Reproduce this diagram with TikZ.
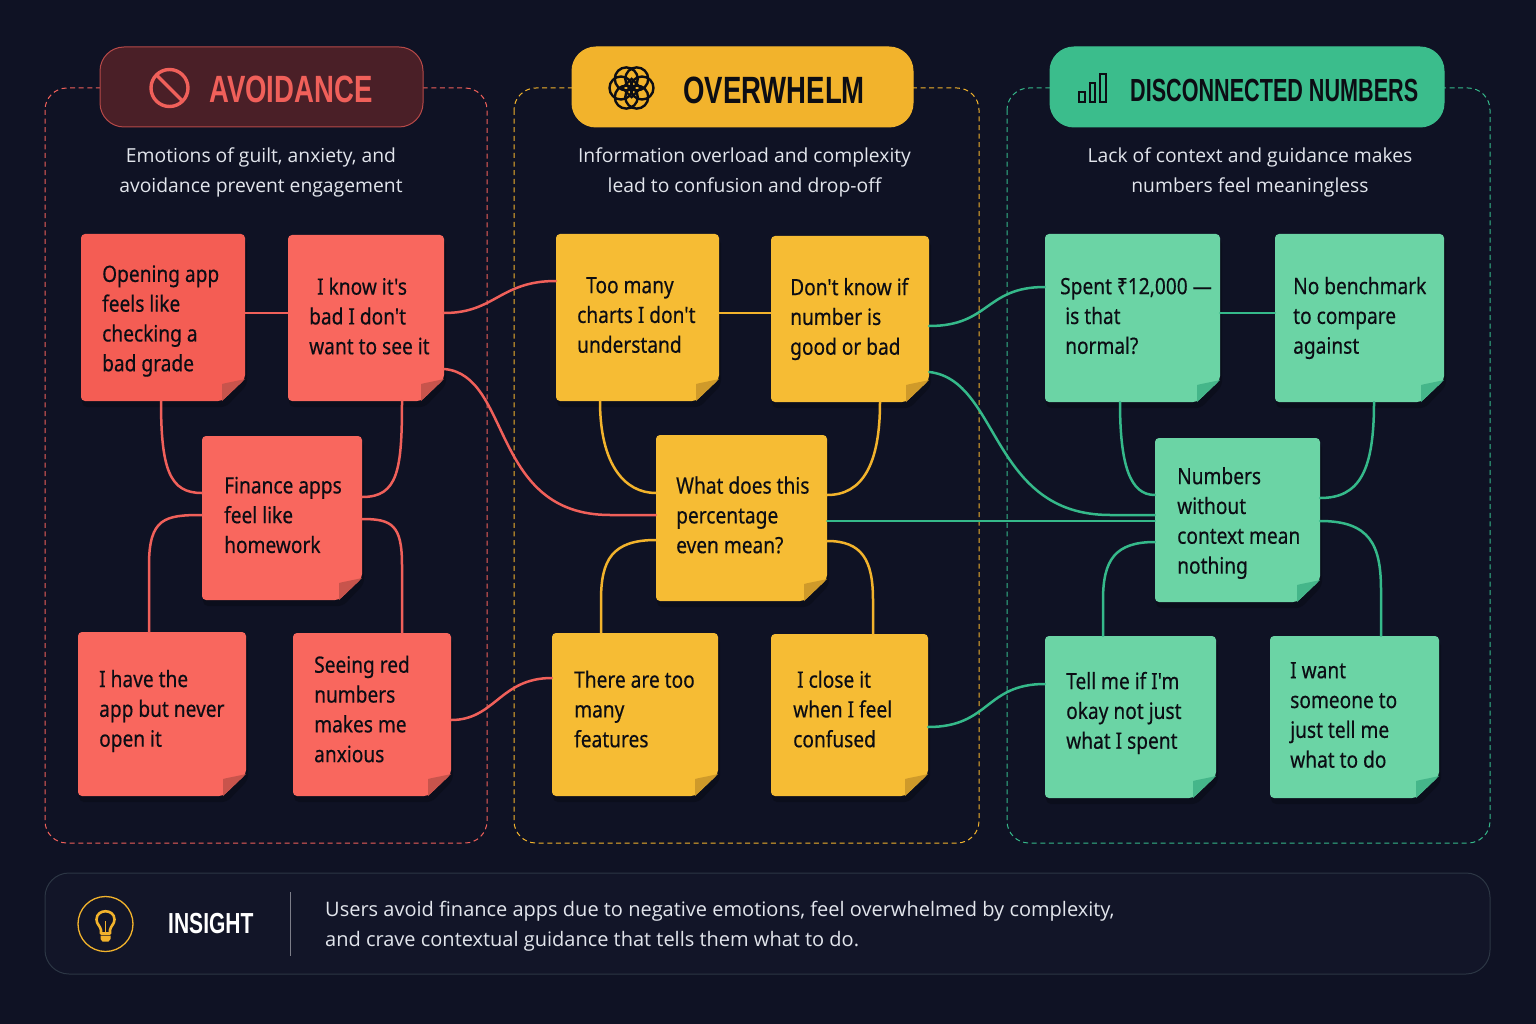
\documentclass[tikz,border=0pt]{standalone}
\usepackage{fontspec}
\usetikzlibrary{calc}
\setmainfont{Liberation Sans}
\newfontfamily\headfont[FakeStretch=0.725]{Liberation Sans}
\newfontfamily\headnarrow[FakeStretch=0.675]{Liberation Sans}
\newfontfamily\notefont[FakeStretch=0.85,FakeBold=0.35]{Noto Sans}
\newfontfamily\subfont{Open Sans}
\definecolor{bgc}{HTML}{0F1224}
\definecolor{redc}{HTML}{F9675E}
\definecolor{redd}{HTML}{F45D54}
\definecolor{redf}{HTML}{C8544C}
\definecolor{redh}{HTML}{4A1F27}
\definecolor{redl}{HTML}{F0605A}
\definecolor{yelc}{HTML}{F6BC34}
\definecolor{yelf}{HTML}{CF9A2A}
\definecolor{yelh}{HTML}{F2B32C}
\definecolor{grnc}{HTML}{6BD4A5}
\definecolor{grnf}{HTML}{45B68A}
\definecolor{grnh}{HTML}{3BBD8C}
\definecolor{grnl}{HTML}{35B98A}
\definecolor{panelc}{HTML}{121528}
\definecolor{panelb}{HTML}{2C3644}
\definecolor{ink}{HTML}{0C0D14}
\definecolor{subc}{HTML}{E2E5EC}
\tikzset{
 x=1pt,y=-1pt,
 panel/.style={draw=#1,line width=1pt,dash pattern=on 5pt off 3.6pt,rounded corners=22pt},
 header/.style={rounded corners=24pt,line width=1pt},
 subtitle/.style={font=\subfont\fontsize{19.3}{30}\selectfont,text=subc,align=center,inner sep=0pt},
 headtext/.style={font=\headfont\bfseries\fontsize{#1}{#1}\selectfont,inner sep=0pt,anchor=west},
 headtextn/.style={font=\headnarrow\bfseries\fontsize{#1}{#1}\selectfont,inner sep=0pt,anchor=west},
 notetext/.style={font=\notefont\fontsize{22.5}{29.8}\selectfont,text=ink,align=left,inner sep=0pt,anchor=west},
 link/.style={draw=#1,line width=2.5pt,line cap=round},
}
% \sticky{name}{x1}{y1}{x2}{y2}{fill}{fold}
\newcommand{\sticky}[7]{%
 \fill[black,opacity=.22,rounded corners=5pt] (#2+1,#3+5)--(#4+2,#3+5)--(#4+2,#5-16)--(#4-19,#5+6)--(#2+1,#5+6)--cycle;
 \fill[#6,rounded corners=4pt] (#2,#3)--(#4,#3)--(#4,#5-22)--(#4-23,#5)--(#2,#5)--cycle;
 \fill[#7] (#4-23,#5)--(#4-23,#5-17)..controls (#4-15,#5-19) and (#4-8,#5-20)..(#4,#5-22)--cycle;
 \node[inner sep=0pt,minimum width=#4-#2,minimum height=#5-#3] (#1) at ({(#2+#4)/2},{(#3+#5)/2}) {};
}
\begin{document}
\begin{tikzpicture}
\useasboundingbox (0,0) rectangle (1536,1024);
\fill[bgc] (0,0) rectangle (1536,1024);
% panels
\draw[panel=redl] (45,88) rectangle (487,843);
\draw[panel=yelh] (514,88) rectangle (979,843);
\draw[panel=grnl] (1007,88) rectangle (1490,843);
% headers
\filldraw[header,fill=redh,draw=redl!65!redh] (100,47) rectangle (423,127);
\filldraw[header,fill=yelh,draw=yelh] (572,47) rectangle (913,127);
\filldraw[header,fill=grnh,draw=grnh] (1050,47) rectangle (1444,127);
\node[headtext=38,text=redl] (h1) at (209,89.5) {AVOIDANCE};
\node[headtext=38,text=ink] (h2) at (683,90.5) {OVERWHELM};
\node[headtextn=32,text=ink] (h3) at (1130,90.5) {DISCONNECTED NUMBERS};
% icon: prohibition
\draw[redl,line width=3.4pt] (169.5,88) circle (18.5);
\draw[redl,line width=3.4pt] (156.5,75) -- (182.5,101);
% icon: tangle
\begin{scope}[shift={(631.5,88)}]
 \foreach \a in {0,60,120,180,240,300}{\draw[ink,line width=2.4pt] (\a:10.5) circle (11.5);}
 \draw[ink,line width=2.2pt,rotate=45] (-6.5,-6.5) rectangle (6.5,6.5);
\end{scope}
% icon: bars
\draw[ink,line width=2pt] (1079,92) rectangle (1084.5,102);
\draw[ink,line width=2pt] (1089.5,83) rectangle (1095,102);
\draw[ink,line width=2pt] (1100,74) rectangle (1105.5,102);
% subtitles
\node[subtitle] (s1) at (261,172) {Emotions of guilt, anxiety, and\\avoidance prevent engagement};
\node[subtitle] (s2) at (744.5,172) {Information overload and complexity\\lead to confusion and drop-off};
\node[subtitle] (s3) at (1250,172) {Lack of context and guidance makes\\numbers feel meaningless};
% stickies
\sticky{ra}{81}{234}{245}{401}{redd}{redf}
\sticky{rb}{288}{235}{444}{401}{redc}{redf}
\sticky{rc}{202}{436}{362}{600}{redc}{redf}
\sticky{rd}{78}{632}{246}{796}{redc}{redf}
\sticky{re}{293}{633}{451}{796}{redc}{redf}
\sticky{ya}{556}{234}{719}{401}{yelc}{yelf}
\sticky{yb}{771}{236}{929}{402}{yelc}{yelf}
\sticky{yc}{656}{435}{827}{601}{yelc}{yelf}
\sticky{yd}{552}{633}{718}{796}{yelc}{yelf}
\sticky{ye}{771}{634}{928}{796}{yelc}{yelf}
\sticky{ga}{1045}{234}{1220}{402}{grnc}{grnf}
\sticky{gb}{1275}{234}{1444}{402}{grnc}{grnf}
\sticky{gc}{1155}{438}{1320}{602}{grnc}{grnf}
\sticky{gd}{1045}{636}{1216}{798}{grnc}{grnf}
\sticky{ge}{1270}{636}{1439}{798}{grnc}{grnf}
% connectors
\begin{scope}[every path/.append style={link=redl}]
\draw (ra.east |- 0,313) -- (rb.west |- 0,313);
\draw (rb.east |- 0,313) .. controls (495,313) and (500,281) .. (ya.west |- 0,281);
\draw (rb.east |- 0,369) .. controls (512,375) and (490,515) .. (610,515) -- (yc.west |- 0,515);
\draw (ra.south -| 161,0) .. controls (161,470) and (170,493) .. (rc.west |- 0,493);
\draw (rb.south -| 402,0) .. controls (402,470) and (398,497) .. (rc.east |- 0,497);
\draw (rc.west |- 0,515) .. controls (165,515) and (149,518) .. (149,565) -- (rd.north -| 149,0);
\draw (rc.east |- 0,519) .. controls (392,519) and (402,525) .. (402,565) -- (re.north -| 402,0);
\draw (re.east |- 0,720) .. controls (495,720) and (500,678) .. (yd.west |- 0,678);
\end{scope}
\begin{scope}[every path/.append style={link=yelh}]
\draw (ya.east |- 0,313) -- (yb.west |- 0,313);
\draw (ya.south -| 600,0) .. controls (600,465) and (625,493) .. (yc.west |- 0,493);
\draw (yb.south -| 880,0) .. controls (880,465) and (862,495) .. (yc.east |- 0,495);
\draw (yc.west |- 0,540) .. controls (612,540) and (601,560) .. (601,600) -- (yd.north -| 601,0);
\draw (yc.east |- 0,541) .. controls (862,541) and (873,560) .. (873,600) -- (ye.north -| 873,0);
\end{scope}
\begin{scope}[every path/.append style={link=grnl}]
\draw (yb.east |- 0,326) .. controls (990,326) and (985,287) .. (ga.west |- 0,287);
\draw (yb.east |- 0,372) .. controls (1000,380) and (990,515) .. (1110,515) -- (gc.west |- 0,515);
\draw (yc.east |- 0,521) -- (gc.west |- 0,521);
\draw (ye.east |- 0,727) .. controls (990,727) and (985,684) .. (gd.west |- 0,684);
\draw (ga.east |- 0,313) -- (gb.west |- 0,313);
\draw (ga.south -| 1120,0) .. controls (1120,465) and (1130,495) .. (gc.west |- 0,495);
\draw (gb.south -| 1374,0) .. controls (1374,470) and (1360,498) .. (gc.east |- 0,498);
\draw (gc.west |- 0,542) .. controls (1115,542) and (1103,560) .. (1103,600) -- (gd.north -| 1103,0);
\draw (gc.east |- 0,521) .. controls (1370,521) and (1381,545) .. (1381,590) -- (ge.north -| 1381,0);
\end{scope}
% sticky texts
\node[notetext] (ta) at (102,321) {Opening app\\feels like\\checking a\\bad grade};
\node[notetext] (tb) at (309,316) {\hspace{8pt}I know it's\\bad I don't\\want to see it};
\node[notetext] (tc) at (224,515) {Finance apps\\feel like\\homework};
\node[notetext] (td) at (99,711) {I have the\\app but never\\open it};
\node[notetext] (te) at (314,709) {Seeing red\\numbers\\makes me\\anxious};
\node[notetext] (tf) at (577,315) {\hspace{9pt}Too many\\charts I don't\\understand};
\node[notetext] (tg) at (790,319) {Don't know if\\number is\\good or bad};
\node[notetext] (th) at (676,515) {What does this\\percentage\\even mean?};
\node[notetext] (ti) at (574,709) {There are too\\many\\features};
\node[notetext] (tj) at (793,709) {\hspace{4pt}I close it\\when I feel\\confused};
\node[notetext] (tk) at (1060,316) {Spent ₹12,000 —\\\hspace{5pt}is that\\\hspace{5pt}normal?};
\node[notetext] (tl) at (1293,318) {No benchmark\\to compare\\against};
\node[notetext] (tm) at (1177,523) {Numbers\\without\\context mean\\nothing};
\node[notetext] (tn) at (1066,713) {Tell me if I'm\\okay not just\\what I spent};
\node[notetext] (to) at (1290,715) {I want\\someone to\\just tell me\\what to do};
% insight
\filldraw[fill=panelc,draw=panelb,line width=1pt,rounded corners=24pt] (45,873) rectangle (1490,974);
\draw[yelh,line width=1.3pt] (105.5,924) circle (27.5);
\draw[yelh,line width=2.6pt,line join=round] (101,933.5) -- (101,930) .. controls (100,925.5) and (96.5,924) .. (96.5,919.5) .. controls (96.5,908.5) and (114.5,908.5) .. (114.5,919.5) .. controls (114.5,924) and (111,925.5) .. (110,930) -- (110,933.5) -- cycle;
\draw[yelh,line width=1.4pt] (105.5,933) -- (105.5,921);
\fill[yelh] (100.5,935.5) -- (110.5,935.5) -- (110.5,939) -- (108.5,941.5) -- (102.5,941.5) -- (100.5,939) -- cycle;
\node[headtext=29,text=white] (it) at (168,924) {INSIGHT};
\draw[line width=1pt,draw=white!45!panelc] (290,892) -- (290,956);
\node[font=\subfont\fontsize{20}{30}\selectfont,text=subc,align=left,inner sep=0pt,anchor=west] (ib) at (325,926) {Users avoid finance apps due to negative emotions, feel overwhelmed by complexity,\\and crave contextual guidance that tells them what to do.};
\end{tikzpicture}
\end{document}
